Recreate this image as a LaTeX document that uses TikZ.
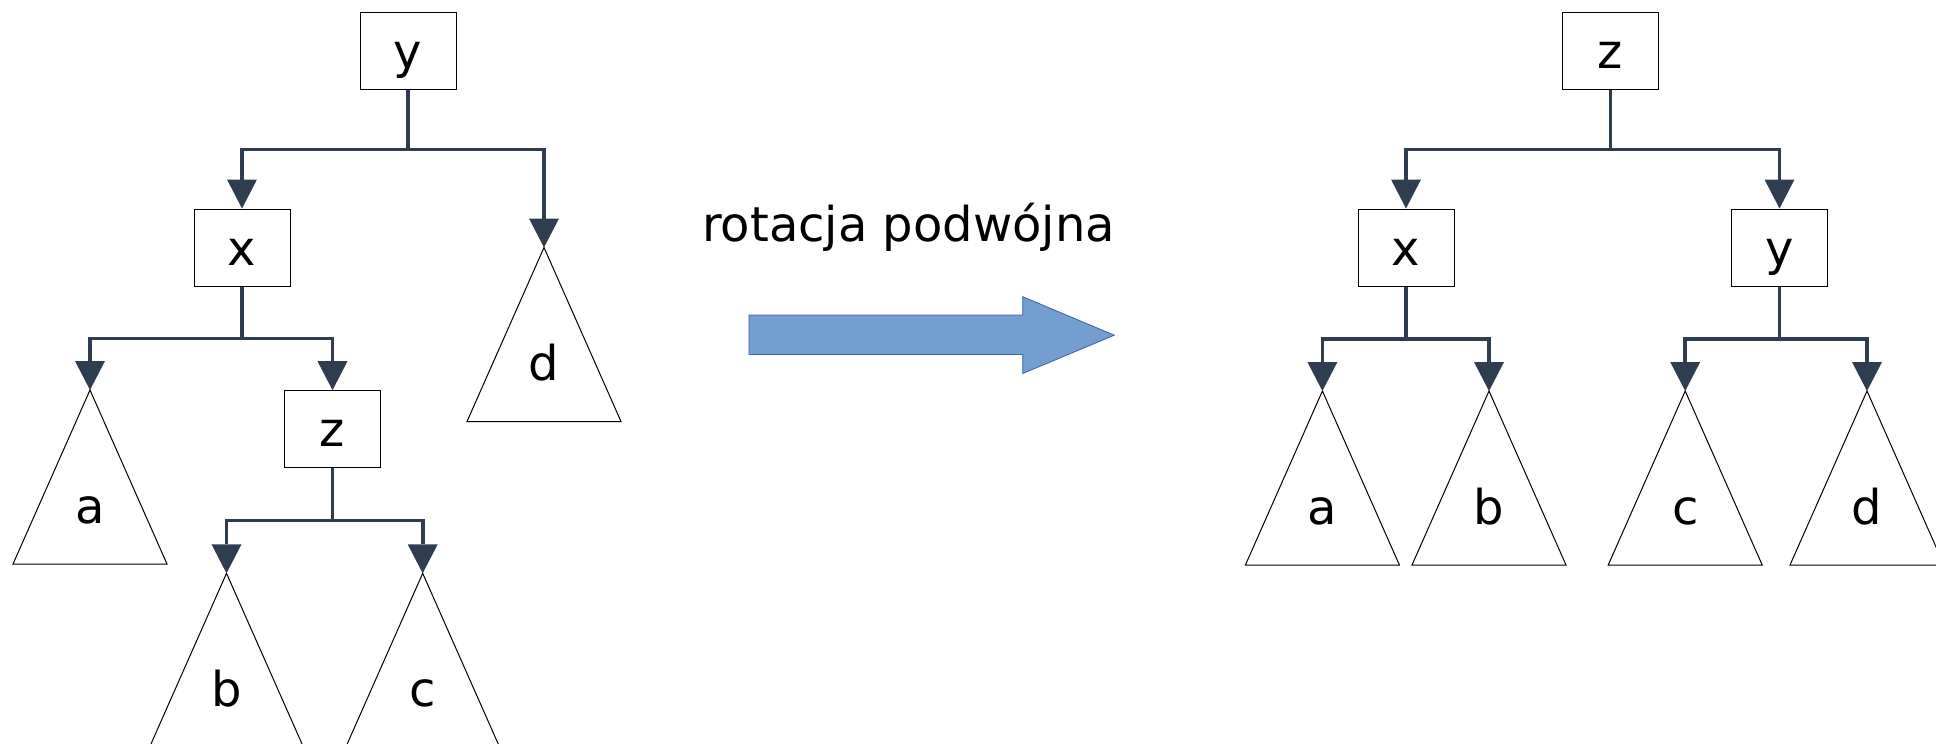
\documentclass[tikz,border=0pt]{standalone}
\usepackage{fontspec}
\setmainfont{DejaVu Sans}
\usetikzlibrary{arrows.meta,calc}

\definecolor{edgecol}{HTML}{2E3E50}
\definecolor{arrowfill}{HTML}{729FCF}
\definecolor{arrowline}{HTML}{3465A4}

\tikzset{
  treenode/.style={draw=black, line width=1pt, fill=white,
    minimum width=96pt, minimum height=77pt, inner sep=0pt,
    text height=35pt, text depth=0pt,
    font=\fontsize{48}{58}\selectfont},
  conn/.style={draw=edgecol, line width=3.8pt,
    -{Triangle[length=29pt,width=30pt,line width=0pt]}},
  subtree/.style={draw=black, line width=1pt},
  sublabel/.style={anchor=base, inner sep=0pt,
    font=\fontsize{48}{58}\selectfont},
}

% draws a subtree triangle hanging from apex #1 with label #2 named #3
\newcommand{\subtreetri}[3]{%
  \draw[subtree] (#1) -- ++(-77,174) -- ++(154,0) -- cycle;
  \node[sublabel] (#3) at ($(#1)+(0,133)$) {#2};
}

\begin{document}
\begin{tikzpicture}[x=1pt,y=-1pt]
\useasboundingbox[fill=white] (0,0) rectangle (1936,744);

% ---------- tree before the rotation ----------
\node[treenode] (Ly) at (408,50.8) {y};
\node[treenode] (Lx) at (242,247.5) {x};
\node[treenode] (Lz) at (332.5,429.2) {z};

\coordinate (Lta) at (90,390);
\coordinate (Ltd) at (544,247.5);
\coordinate (Ltb) at (226.5,573.3);
\coordinate (Ltc) at (422.7,573.3);

\coordinate (Ljy) at (408,149.5);
\coordinate (Ljx) at (242,338.5);
\coordinate (Ljz) at (332.5,520.5);

\subtreetri{Lta}{a}{La}
\subtreetri{Ltd}{d}{Ld}
\subtreetri{Ltb}{b}{Lb}
\subtreetri{Ltc}{c}{Lc}

\draw[conn] (Ly.south) -- (Ljy) -| (Lx.north);
\draw[conn] (Ly.south) -- (Ljy) -| (Ltd);
\draw[conn] (Lx.south) -- (Ljx) -| (Lta);
\draw[conn] (Lx.south) -- (Ljx) -| (Lz.north);
\draw[conn] (Lz.south) -- (Ljz) -| (Ltb);
\draw[conn] (Lz.south) -- (Ljz) -| (Ltc);

% ---------- caption and transition arrow ----------
\node[anchor=base, inner sep=0pt, font=\fontsize{48}{58}\selectfont]
  (title) at (908.5,241.7) {rotacja podwójna};

\draw[fill=arrowfill, draw=arrowline, line width=0.8pt, line join=miter]
  (749,315) -- (1022.7,315) -- (1022.7,296.7) -- (1114.3,335.2)
  -- (1022.7,373.5) -- (1022.7,354.5) -- (749,354.5) -- cycle;

% ---------- tree after the rotation ----------
\node[treenode] (Rz) at (1610.5,50.8) {z};
\node[treenode] (Rx) at (1406,247.5) {x};
\node[treenode] (Ry) at (1779.5,247.5) {y};

\coordinate (Rta) at (1322.4,391);
\coordinate (Rtb) at (1489,391);
\coordinate (Rtc) at (1685.2,391);
\coordinate (Rtd) at (1867,391);

\coordinate (Rjz) at (1610.5,149.5);
\coordinate (Rjx) at (1406,339.3);
\coordinate (Rjy) at (1779.5,339.3);

\subtreetri{Rta}{a}{Ra}
\subtreetri{Rtb}{b}{Rb}
\subtreetri{Rtc}{c}{Rc}
\subtreetri{Rtd}{d}{Rd}

\draw[conn] (Rz.south) -- (Rjz) -| (Rx.north);
\draw[conn] (Rz.south) -- (Rjz) -| (Ry.north);
\draw[conn] (Rx.south) -- (Rjx) -| (Rta);
\draw[conn] (Rx.south) -- (Rjx) -| (Rtb);
\draw[conn] (Ry.south) -- (Rjy) -| (Rtc);
\draw[conn] (Ry.south) -- (Rjy) -| (Rtd);

\end{tikzpicture}
\end{document}
